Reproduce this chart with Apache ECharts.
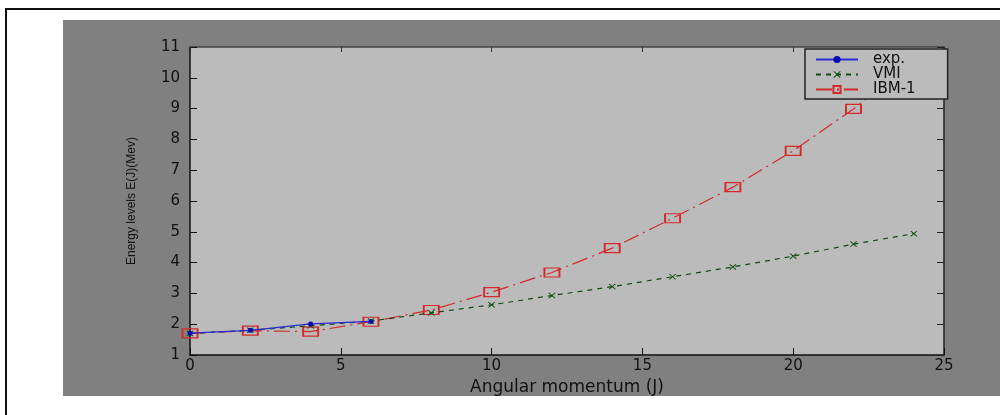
<!DOCTYPE html>
<html>
<head>
<meta charset="utf-8">
<script src="https://cdn.jsdelivr.net/npm/echarts@6/dist/echarts.min.js"></script>
<style>
  body { margin: 0; background: #fff; }
  .frame { position: absolute; left: 5px; top: 8px; width: 1200px; height: 600px; border-top: 2px solid #111; border-left: 2px solid #111; }
  .fig { position: absolute; left: 63px; top: 20px; width: 937px; height: 376px; background: #808080; }
  #mychart { position: absolute; left: 0; top: 0; width: 1000px; height: 415px; }
</style>
</head>
<body>
<div class="frame"></div>
<div class="fig"></div>
<div id="mychart"></div>
<script>
// angular momentum J
const expJ = [0, 2, 4, 6]
const expE = [1.71, 1.80, 2.01, 2.09]

const vmiJ = [0, 2, 4, 6, 8, 10, 12, 14, 16, 18, 20, 22, 24]
const vmiE = [1.70, 1.80, 1.95, 2.10, 2.37, 2.63, 2.93, 3.22, 3.54, 3.86, 4.21, 4.60, 4.94]

const ibmJ = [0, 2, 4, 6, 8, 10, 12, 14, 16, 18, 20, 22, 24]
const ibmE = [1.70, 1.79, 1.76, 2.08, 2.46, 3.04, 3.68, 4.47, 5.44, 6.45, 7.63, 8.99, 10.55]

const seriesNames = ['exp.', 'VMI', 'IBM-1']

function pairs(xs, ys) {
  return xs.map(function (x, i) { return [x, ys[i]] })
}

const crossPath = 'path://M0,1L1,0L5,4L9,0L10,1L6,5L10,9L9,10L5,6L1,10L0,9L4,5Z'
const font = 'DejaVu Sans'

const myChart = echarts.init(document.querySelector('#mychart'))
myChart.setOption({
  animation: false,
  backgroundColor: 'transparent',
  textStyle: { fontFamily: font, color: '#000' },
  grid: {
    left: 190, top: 47, right: 56, bottom: 60,
    show: true,
    backgroundColor: '#bbbbbb',
    borderWidth: 0
  },
  legend: {
    data: seriesNames,
    orient: 'vertical',
    left: 805,
    top: 49,
    padding: [3, 32, 2, 10],
    itemWidth: 42,
    itemHeight: 9,
    itemGap: 0,
    backgroundColor: '#bbbbbb',
    borderColor: '#222',
    borderWidth: 1.5,
    borderRadius: 0,
    textStyle: { fontFamily: font, fontSize: 15, lineHeight: 12, height: 12, color: '#111', padding: [0, 0, 0, 10] }
  },
  xAxis: [
    {
      type: 'value',
      min: 0, max: 25, interval: 5,
      name: 'Angular momentum (J)',
      nameLocation: 'middle',
      nameGap: 20,
      nameTextStyle: { fontFamily: font, fontSize: 17, color: '#111' },
      axisLine: { onZero: false, lineStyle: { color: '#111', width: 1.5 } },
      axisTick: { inside: true, length: 7, lineStyle: { color: '#111' } },
      axisLabel: { fontFamily: font, fontSize: 15, color: '#111', margin: 4 },
      splitLine: { show: false }
    },
    {
      type: 'value',
      position: 'top',
      min: 0, max: 25, interval: 5,
      axisLine: { onZero: false, lineStyle: { color: '#444', width: 1.5 } },
      axisTick: { inside: true, length: 5, lineStyle: { color: '#333' } },
      axisLabel: { show: false },
      splitLine: { show: false }
    }
  ],
  yAxis: [
    {
      type: 'value',
      min: 1, max: 11, interval: 1,
      name: 'Energy levels E(J)(Mev)',
      nameLocation: 'middle',
      nameGap: 52,
      nameTextStyle: { fontFamily: 'Liberation Sans', fontSize: 12, color: '#111' },
      axisLine: { onZero: false, lineStyle: { color: '#111', width: 1.5 } },
      axisTick: { inside: true, length: 7, lineStyle: { color: '#111' } },
      axisLabel: { fontFamily: font, fontSize: 15, color: '#111', margin: 10 },
      splitLine: { show: false }
    },
    {
      type: 'value',
      position: 'right',
      min: 1, max: 11, interval: 1,
      axisLine: { onZero: false, lineStyle: { color: '#222', width: 1.5 } },
      axisTick: { inside: true, length: 7, lineStyle: { color: '#222' } },
      axisLabel: { show: false },
      splitLine: { show: false }
    }
  ],
  series: [
    {
      name: 'IBM-1',
      type: 'line',
      data: pairs(ibmJ, ibmE),
      symbol: 'rect',
      symbolSize: [15, 9],
      showAllSymbol: true,
      lineStyle: { color: '#d42a2a', width: 1.2, type: [16, 5, 2, 5] },
      itemStyle: { color: 'rgba(0,0,0,0)', borderColor: '#d42a2a', borderWidth: 1.5 },
      z: 2
    },
    {
      name: 'VMI',
      type: 'line',
      data: pairs(vmiJ, vmiE),
      symbol: crossPath,
      symbolSize: [7, 6],
      showAllSymbol: true,
      lineStyle: { color: '#0d4d0d', width: 1.2, type: [5, 5] },
      itemStyle: { color: '#0d4d0d' },
      z: 3
    },
    {
      name: 'exp.',
      type: 'line',
      data: pairs(expJ, expE),
      symbol: 'circle',
      symbolSize: 5,
      showAllSymbol: true,
      lineStyle: { color: '#2b2bd8', width: 1.2 },
      itemStyle: { color: '#0a0ab0' },
      z: 4
    }
  ]
})
</script>
</body>
</html>
